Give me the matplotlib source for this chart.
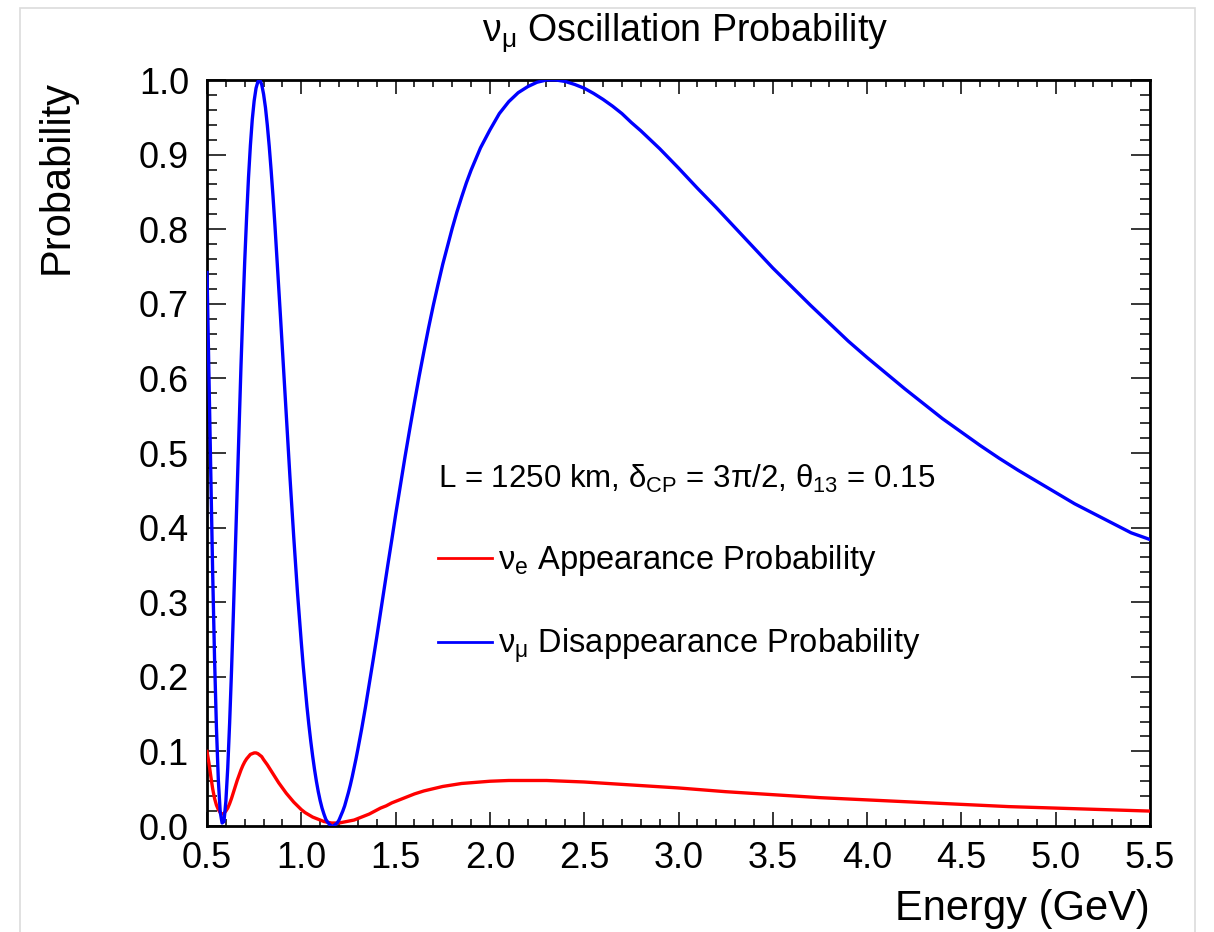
import matplotlib
matplotlib.use("Agg")
import matplotlib.pyplot as plt
from matplotlib.patches import Rectangle

plt.rcParams['font.family'] = ['Liberation Sans', 'DejaVu Sans']
plt.rcParams['mathtext.fontset'] = 'custom'
plt.rcParams['mathtext.rm'] = 'Liberation Sans'
plt.rcParams['mathtext.it'] = 'Liberation Sans'
plt.rcParams['mathtext.bf'] = 'Liberation Sans:bold'

# ---- data ----
energy_mu = [0.50, 0.51, 0.52, 0.53, 0.54, 0.55, 0.56, 0.57, 0.58, 0.59,
             0.60, 0.61, 0.62, 0.63, 0.64, 0.65, 0.66, 0.67, 0.68, 0.69,
             0.70, 0.71, 0.72, 0.73, 0.74, 0.75, 0.76, 0.77, 0.78, 0.79,
             0.80, 0.81, 0.82, 0.83, 0.84, 0.85, 0.86, 0.87, 0.88, 0.89,
             0.90, 0.91, 0.92, 0.93, 0.94, 0.95, 0.96, 0.97, 0.98, 0.99,
             1.00, 1.01, 1.02, 1.03, 1.04, 1.05, 1.06, 1.07, 1.08, 1.09,
             1.10, 1.11, 1.12, 1.13, 1.14, 1.15, 1.16, 1.17, 1.18, 1.19,
             1.20, 1.21, 1.22, 1.23, 1.24, 1.25, 1.26, 1.27, 1.28, 1.29,
             1.30, 1.32, 1.34, 1.36, 1.38, 1.40, 1.42, 1.44, 1.46, 1.48,
             1.50, 1.525, 1.55, 1.575, 1.60, 1.625, 1.65, 1.675, 1.70, 1.725,
             1.75, 1.775, 1.80, 1.825, 1.85, 1.875, 1.90, 1.95, 2.00, 2.05,
             2.10, 2.15, 2.20, 2.25, 2.30, 2.35, 2.40, 2.45, 2.50, 2.55,
             2.60, 2.65, 2.70, 2.75, 2.80, 2.85, 2.90, 2.95, 3.00, 3.10,
             3.20, 3.30, 3.40, 3.50, 3.60, 3.70, 3.80, 3.90, 4.00, 4.10,
             4.20, 4.30, 4.40, 4.50, 4.60, 4.70, 4.80, 4.90, 5.00, 5.10,
             5.20, 5.30, 5.40, 5.50]
p_mu_disappear = [0.742, 0.607, 0.470, 0.340, 0.225, 0.132, 0.062, 0.019, 0.004, 0.006,
                  0.033, 0.078, 0.138, 0.208, 0.286, 0.369, 0.452, 0.535, 0.615, 0.689,
                  0.757, 0.816, 0.869, 0.912, 0.947, 0.972, 0.989, 0.998, 1.000, 0.994,
                  0.981, 0.963, 0.939, 0.911, 0.879, 0.844, 0.806, 0.765, 0.724, 0.681,
                  0.638, 0.594, 0.551, 0.509, 0.467, 0.426, 0.387, 0.349, 0.312, 0.278,
                  0.246, 0.215, 0.187, 0.160, 0.136, 0.114, 0.094, 0.076, 0.060, 0.046,
                  0.034, 0.024, 0.016, 0.009, 0.005, 0.002, 0.000, 0.000, 0.002, 0.004,
                  0.008, 0.014, 0.020, 0.027, 0.036, 0.045, 0.055, 0.066, 0.078, 0.090,
                  0.103, 0.130, 0.159, 0.190, 0.221, 0.253, 0.286, 0.319, 0.352, 0.384,
                  0.417, 0.456, 0.495, 0.532, 0.568, 0.603, 0.636, 0.668, 0.698, 0.726,
                  0.753, 0.777, 0.801, 0.823, 0.843, 0.862, 0.879, 0.909, 0.933, 0.955,
                  0.971, 0.983, 0.991, 0.997, 1.000, 1.000, 0.998, 0.994, 0.989, 0.982,
                  0.974, 0.965, 0.955, 0.943, 0.932, 0.920, 0.908, 0.895, 0.882, 0.855,
                  0.829, 0.802, 0.775, 0.748, 0.723, 0.698, 0.674, 0.650, 0.628, 0.607,
                  0.586, 0.566, 0.546, 0.528, 0.510, 0.493, 0.477, 0.462, 0.447, 0.432,
                  0.419, 0.406, 0.393, 0.384]

energy_e = [0.50, 0.51, 0.52, 0.53, 0.54, 0.55, 0.56, 0.57, 0.58, 0.59,
            0.60, 0.61, 0.62, 0.63, 0.64, 0.65, 0.66, 0.67, 0.68, 0.69,
            0.70, 0.71, 0.72, 0.73, 0.74, 0.75, 0.76, 0.77, 0.78, 0.79,
            0.80, 0.82, 0.84, 0.86, 0.88, 0.90, 0.92, 0.94, 0.96, 0.98,
            1.00, 1.02, 1.04, 1.06, 1.08, 1.10, 1.12, 1.14, 1.16, 1.18,
            1.20, 1.22, 1.24, 1.26, 1.28, 1.30, 1.33, 1.36, 1.39, 1.42,
            1.45, 1.48, 1.51, 1.54, 1.57, 1.60, 1.65, 1.70, 1.75, 1.80,
            1.85, 1.90, 1.95, 2.00, 2.10, 2.20, 2.30, 2.40, 2.50, 2.625,
            2.75, 2.875, 3.00, 3.25, 3.50, 3.75, 4.00, 4.25, 4.50, 4.75,
            5.00, 5.25, 5.50]
p_e_appear = [0.100, 0.085, 0.067, 0.050, 0.037, 0.028, 0.022, 0.018, 0.016, 0.017,
              0.020, 0.024, 0.030, 0.037, 0.045, 0.053, 0.061, 0.068, 0.075, 0.081,
              0.086, 0.090, 0.093, 0.096, 0.097, 0.098, 0.098, 0.097, 0.095, 0.093,
              0.089, 0.082, 0.074, 0.066, 0.058, 0.051, 0.044, 0.038, 0.032, 0.027,
              0.022, 0.018, 0.015, 0.012, 0.010, 0.008, 0.006, 0.005, 0.004, 0.004,
              0.004, 0.005, 0.006, 0.007, 0.008, 0.010, 0.013, 0.016, 0.020, 0.024,
              0.027, 0.031, 0.034, 0.037, 0.040, 0.043, 0.047, 0.050, 0.053, 0.055,
              0.057, 0.058, 0.059, 0.060, 0.061, 0.061, 0.061, 0.060, 0.059, 0.057,
              0.055, 0.053, 0.051, 0.046, 0.042, 0.038, 0.035, 0.032, 0.029, 0.026,
              0.024, 0.022, 0.020]

title_text = r'ν$_{\mathrm{\mu}}$ Oscillation Probability'
header_text = r'L = 1250 km, δ$_{\mathrm{CP}}$ = 3π/2, θ$_{\mathrm{13}}$ = 0.15'
label_e = r'ν$_{\mathrm{e}}$ Appearance Probability'
label_mu = r'ν$_{\mathrm{\mu}}$ Disappearance Probability'
xticks = [0.5, 1.0, 1.5, 2.0, 2.5, 3.0, 3.5, 4.0, 4.5, 5.0, 5.5]
yticks = [0.0, 0.1, 0.2, 0.3, 0.4, 0.5, 0.6, 0.7, 0.8, 0.9, 1.0]

W, H = 1214, 932
fig = plt.figure(figsize=(W / 100, H / 100), dpi=100)
ax = fig.add_axes([207 / W, 1 - 826 / H, (1150 - 207) / W, (826 - 80) / H])

ax.plot(energy_e, p_e_appear, color='#ff0000', lw=2.4, label=label_e, zorder=3)
ax.plot(energy_mu, p_mu_disappear, color='#0000ff', lw=2.4, label=label_mu, zorder=4)

ax.set_xlim(0.5, 5.5)
ax.set_ylim(0.0, 1.0)
ax.set_xticks(xticks)
ax.set_xticklabels([f'{v:.1f}' for v in xticks])
ax.set_yticks(yticks)
ax.set_yticklabels([f'{v:.1f}' for v in yticks])
ax.set_xticks([0.5 + 0.1 * i for i in range(51)], minor=True)
ax.set_yticks([0.02 * i for i in range(51)], minor=True)

for s in ax.spines.values():
    s.set_linewidth(2.0)
ax.tick_params(axis='both', which='both', direction='in', top=True, right=True,
               width=1.1, color='black')
ax.tick_params(axis='x', which='major', length=10, pad=11, labelsize=26)
ax.tick_params(axis='x', which='minor', length=5)
ax.tick_params(axis='y', which='major', length=13.5, pad=13, labelsize=26)
ax.tick_params(axis='y', which='minor', length=7)

leg = ax.legend(title=header_text, title_fontsize=22.5, fontsize=23.5,
                loc='upper left', bbox_to_anchor=((438 - 207) / 943, (826 - 463) / 746),
                frameon=False, borderpad=0, borderaxespad=0, handlelength=1.65,
                handletextpad=0.2, labelspacing=1.48, alignment='left')
for h in leg.legend_handles:
    h.set_linewidth(2.0)

fig.text(685 / W, 1 - 42 / H, title_text, ha='center', va='baseline', fontsize=27)
fig.text(57 / W, 1 - 80 / H, 'Probability', ha='center', va='top', rotation=90, fontsize=30)
fig.text(1150 / W, 1 - 920 / H, 'Energy (GeV)', ha='right', va='baseline', fontsize=30)

fig.patches.append(Rectangle((20 / W, -0.05), (1195 - 20) / W, 1 - 8 / H + 0.05,
                             transform=fig.transFigure, fill=False,
                             edgecolor='#dcdcdc', lw=1.2, zorder=0))

fig.savefig('out.png', dpi=100)
